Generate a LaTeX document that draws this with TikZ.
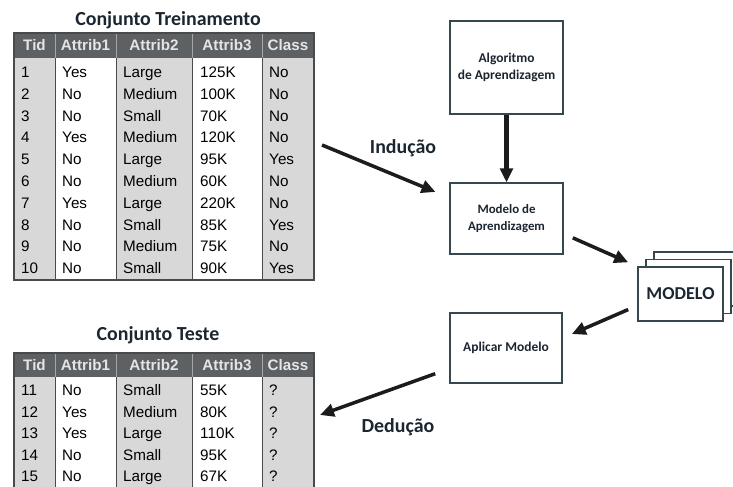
\documentclass[tikz,border=0pt]{standalone}
\usepackage{fontspec}
\setmainfont{Liberation Sans}
\newfontfamily\rotulo{Carlito}
\usetikzlibrary{arrows.meta}

\definecolor{cabec}{HTML}{5E6164}
\definecolor{cinza}{HTML}{D8D8D8}
\definecolor{grade}{HTML}{4A4A4A}
\definecolor{borda}{HTML}{35474F}
\definecolor{preto}{HTML}{1C1C1C}
\definecolor{escrita}{HTML}{1B2631}

\tikzset{
  celula/.style={anchor=base west, inner sep=0pt, font=\fontsize{13}{13}\selectfont},
  titcol/.style={anchor=base, inner sep=0pt, text=white!90!black, font=\fontsize{13}{13}\selectfont\bfseries},
  titulo/.style={text=escrita, font=\rotulo\bfseries\fontsize{17}{17}\selectfont},
  caixa/.style={draw=borda, line width=1.1pt, fill=white, inner sep=0pt, align=center, text=escrita, font=\rotulo\bfseries\fontsize{11.5}{15}\selectfont},
  seta/.style={draw=preto, line width=3pt, -{Triangle[length=0.42cm,width=0.38cm]}},
}

\begin{document}
\begin{tikzpicture}[x=0.03cm, y=-0.03cm]
\useasboundingbox (0,0) rectangle (733,487);

% conjunto de treinamento
\node[titulo] (treinotit) at (168,20) {Conjunto Treinamento};
\fill[cinza] (14,58) rectangle (55,280);
\fill[cinza] (116,58) rectangle (192,280);
\fill[cinza] (262,58) rectangle (314,280);
\fill[cabec] (14,33) rectangle (314,58);
\foreach \x in {55,116,192,262} {
  \draw[gray!70, line width=0.5pt] (\x,33) -- (\x,58);
  \draw[grade, line width=0.6pt] (\x,58) -- (\x,280);
}
\draw[grade, line width=1pt] (14,33) rectangle (314,280);
\foreach \t/\x [count=\k] in {Tid/34.5, Attrib1/85.5, Attrib2/154, Attrib3/227, Class/288}
  \node[titcol] (trc\k) at (\x,51) {\t};
\foreach \i/\a/\b/\c/\d [count=\n from 0] in {1/Yes/Large/125K/No, 2/No/Medium/100K/No,
    3/No/Small/70K/No, 4/Yes/Medium/120K/No, 5/No/Large/95K/Yes, 6/No/Medium/60K/No,
    7/Yes/Large/220K/No, 8/No/Small/85K/Yes, 9/No/Medium/75K/No, 10/No/Small/90K/Yes} {
  \pgfmathsetmacro\yb{77.5+\n*21.8}
  \node[celula] (tr\n-1) at (21,\yb) {\i};
  \node[celula] (tr\n-2) at (62,\yb) {\a};
  \node[celula] (tr\n-3) at (123,\yb) {\b};
  \node[celula] (tr\n-4) at (200,\yb) {\c};
  \node[celula] (tr\n-5) at (269,\yb) {\d};
}

% conjunto de teste
\node[titulo] (testetit) at (158,335) {Conjunto Teste};
\fill[cinza] (14,377) rectangle (55,487);
\fill[cinza] (116,377) rectangle (192,487);
\fill[cinza] (262,377) rectangle (314,487);
\fill[cabec] (14,353) rectangle (314,377);
\foreach \x in {55,116,192,262} {
  \draw[gray!70, line width=0.5pt] (\x,353) -- (\x,377);
  \draw[grade, line width=0.6pt] (\x,377) -- (\x,487);
}
\draw[grade, line width=1pt] (14,487) -- (14,353) -- (314,353) -- (314,487);
\foreach \t/\x [count=\k] in {Tid/34.5, Attrib1/85.5, Attrib2/154, Attrib3/227, Class/288}
  \node[titcol] (tsc\k) at (\x,370.5) {\t};
\foreach \i/\a/\b/\c [count=\n from 0] in {11/No/Small/55K, 12/Yes/Medium/80K,
    13/Yes/Large/110K, 14/No/Small/95K, 15/No/Large/67K} {
  \pgfmathsetmacro\yb{395.5+\n*21.5}
  \node[celula] (ts\n-1) at (21,\yb) {\i};
  \node[celula] (ts\n-2) at (62,\yb) {\a};
  \node[celula] (ts\n-3) at (123,\yb) {\b};
  \node[celula] (ts\n-4) at (200,\yb) {\c};
  \node[celula] (ts\n-5) at (269,\yb) {?};
}

% caixas
\node[caixa, minimum width=3.39cm, minimum height=2.79cm] (alg) at (506.5,67.5) {Algoritmo\\de Aprendizagem};
\node[caixa, minimum width=3.39cm, minimum height=2.13cm, font=\rotulo\bfseries\fontsize{11}{14}\selectfont] (aprend) at (506.5,218.5) {Modelo de\\Aprendizagem};
\node[caixa, minimum width=3.36cm, minimum height=2.1cm] (aplicar) at (506,348) {Aplicar Modelo};
\begin{scope}
\clip (0,0) rectangle (733,487);
\node[caixa, minimum width=2.55cm, minimum height=1.62cm] (modelo3) at (696.5,279) {};
\node[caixa, minimum width=2.55cm, minimum height=1.62cm] (modelo2) at (688.5,286.5) {};
\end{scope}
\node[caixa, minimum width=2.55cm, minimum height=1.62cm, font=\rotulo\bfseries\fontsize{15.5}{15.5}\selectfont] (modelo) at (680.5,294) {MODELO};

% setas
\coordinate (treino) at (322,145);
\coordinate (teste) at (320,415);
\draw[seta, line width=3.8pt] (alg) -- (aprend);
\draw[seta, shorten >=0.45cm] (treino) -- (aprend.160);
\draw[seta, shorten <=0.3cm, shorten >=0.3cm] (aprend.-15) -- (modelo.north west);
\draw[seta, shorten <=0.3cm, shorten >=0.3cm] (modelo.195) -- (aplicar.10);
\draw[seta, shorten <=0.45cm] (aplicar.200) -- (teste);
\node[titulo] (inducao) at (403,148) {Indução};
\node[titulo] (deducao) at (398,427) {Dedução};
\end{tikzpicture}
\end{document}
